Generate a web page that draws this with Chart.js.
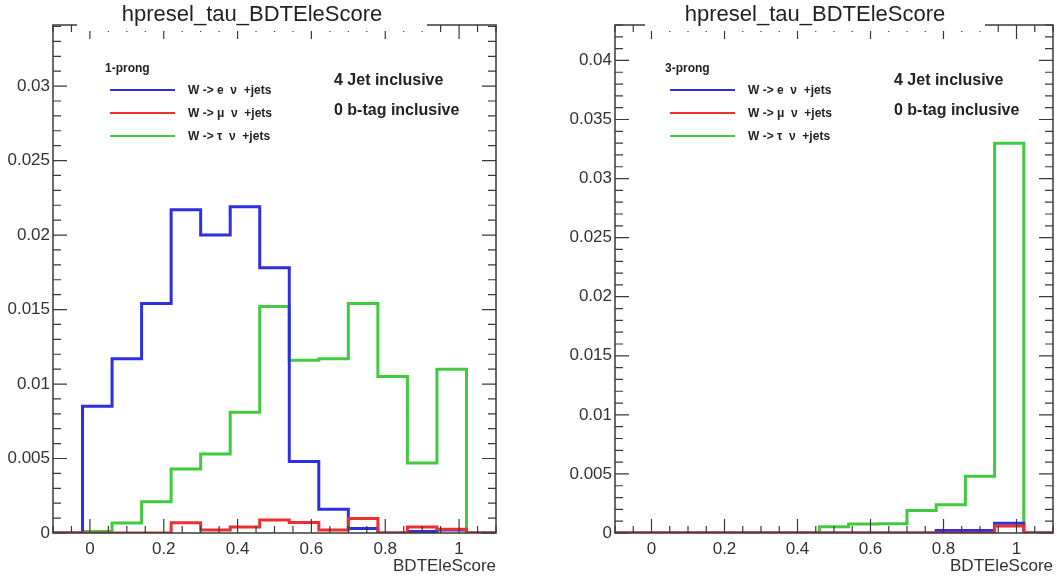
<!DOCTYPE html>
<html>
<head>
<meta charset="utf-8">
<title>hpresel_tau_BDTEleScore</title>
<script src="https://cdn.jsdelivr.net/npm/chart.js@4.4.1/dist/chart.umd.min.js"></script>
<style>
  body { margin: 0; background: #fff; }
  #pad1 { position: absolute; left: 0; top: 0; width: 500px; height: 581px; }
  #pad3 { position: absolute; left: 560px; top: 0; width: 497px; height: 581px; }
</style>
</head>
<body>
<div id="pad1"><canvas id="chart1"></canvas></div>
<div id="pad3"><canvas id="chart3"></canvas></div>
<script>
// histogram binning (15 bins, -0.1 .. 1.1)
const binEdges = [-0.1, -0.02, 0.06, 0.14, 0.22, 0.30, 0.38, 0.46, 0.54, 0.62, 0.70, 0.78, 0.86, 0.94, 1.02, 1.10];
const xTickValues = [0, 0.2, 0.4, 0.6, 0.8, 1];
const yTickValues1 = [0, 0.005, 0.01, 0.015, 0.02, 0.025, 0.03];
const yTickValues3 = [0, 0.005, 0.01, 0.015, 0.02, 0.025, 0.03, 0.035, 0.04];

const seriesLabels = ['W -> e  ν  +jets', 'W -> μ  ν  +jets', 'W -> τ  ν  +jets'];
const seriesColors = ['#2f2fe2', '#ec2f2f', '#3fca3f'];

// 1-prong
const enu1   = [0, 0.0085, 0.0117, 0.0154, 0.0217, 0.0200, 0.0219, 0.0178, 0.0048, 0.0016, 0.0003, 0, 0.0001, 0.0002, 0];
const munu1  = [0, 0, 0, 0, 0.00068, 0.0002, 0.0004, 0.00088, 0.0007, 0.0002, 0.00098, 0, 0.0004, 0.00025, 0];
const taunu1 = [0, 0.0001, 0.00067, 0.0021, 0.0043, 0.0053, 0.0081, 0.0152, 0.0116, 0.0117, 0.0154, 0.0105, 0.0047, 0.0110, 0];

// 3-prong
const enu3   = [0, 0, 0, 0, 0, 0, 0, 0, 0, 0, 0, 0.00022, 0.00022, 0.00082, 0];
const munu3  = [0, 0, 0, 0, 0, 0, 0, 0, 0, 0, 0, 0, 0, 0.0006, 0];
const taunu3 = [0, 0, 0, 0, 0, 0, 0, 0.00053, 0.00076, 0.00078, 0.0019, 0.0024, 0.0048, 0.0330, 0];

const FONT = "'Liberation Sans', Arial, Helvetica, sans-serif";

function histPoints(values) {
  const pts = values.map((v, i) => ({ x: binEdges[i], y: v }));
  pts.push({ x: binEdges[binEdges.length - 1], y: values[values.length - 1] });
  return pts;
}

function fmt(v) {
  return String(+Number(v).toFixed(4));
}

// ROOT-like frame, inward ticks, title box and legend
const rootStyle = {
  id: 'rootStyle',
  afterDraw(chart, args, opts) {
    const { ctx, chartArea: a, scales: { x, y } } = chart;
    ctx.save();

    // frame
    ctx.strokeStyle = '#3a3a3a';
    ctx.lineWidth = 1.5;
    ctx.strokeRect(a.left, a.top, a.right - a.left, a.bottom - a.top);

    // ticks
    ctx.lineWidth = 1.2;
    ctx.beginPath();
    for (let k = -2; k <= 22; k++) {
      const v = k * 0.05;
      if (v < x.min - 1e-9 || v > x.max + 1e-9) continue;
      const px = x.getPixelForValue(v);
      const len = k % 4 === 0 ? 14 : 7;
      ctx.moveTo(px, a.bottom); ctx.lineTo(px, a.bottom - len);
      ctx.moveTo(px, a.top); ctx.lineTo(px, a.top + len);
    }
    for (let k = 0; k * 0.001 <= y.max + 1e-9; k++) {
      const py = y.getPixelForValue(k * 0.001);
      const len = k % 5 === 0 ? 14 : 8;
      ctx.moveTo(a.left, py); ctx.lineTo(a.left + len, py);
      ctx.moveTo(a.right, py); ctx.lineTo(a.right - len, py);
    }
    ctx.stroke();

    // title pave (covers part of the top frame)
    ctx.fillStyle = '#fff';
    ctx.fillRect(opts.paveLeft, 0, opts.paveRight - opts.paveLeft, 31);
    ctx.fillStyle = '#222';
    ctx.font = '22px ' + FONT;
    ctx.textAlign = 'center';
    ctx.textBaseline = 'middle';
    ctx.fillText(opts.title, (opts.paveLeft + opts.paveRight) / 2, 15);

    // legend
    ctx.textAlign = 'left';
    ctx.fillStyle = '#222';
    ctx.font = 'bold 12px ' + FONT;
    ctx.fillText(opts.header, 105, 69);
    const rows = [90, 113, 136];
    chart.data.datasets.forEach((ds, i) => {
      ctx.strokeStyle = ds.borderColor;
      ctx.lineWidth = 2.2;
      ctx.beginPath();
      ctx.moveTo(110, rows[i]); ctx.lineTo(175, rows[i]);
      ctx.stroke();
      ctx.fillStyle = '#222';
      ctx.font = 'bold 12px ' + FONT;
      ctx.fillText(ds.label, 188, rows[i] + 1);
    });

    ctx.font = 'bold 16px ' + FONT;
    ctx.fillText('4 Jet inclusive', 334, 81);
    ctx.fillText('0 b-tag inclusive', 334, 111);
    ctx.restore();
  }
};

function makeChart(id, series, yMax, yTicks, yWidth, header, pave) {
  const order = [1, 0, 2];
  const ctx = document.getElementById(id).getContext('2d');
  return new Chart(ctx, {
    type: 'line',
    data: {
      datasets: series.map((vals, i) => ({
        label: seriesLabels[i],
        data: histPoints(vals),
        borderColor: seriesColors[i],
        borderWidth: 3,
        stepped: 'before',
        pointRadius: 0,
        fill: false,
        order: order[i]
      }))
    },
    options: {
      responsive: true,
      maintainAspectRatio: false,
      animation: false,
      layout: { padding: { top: 25, right: 4, left: 0, bottom: 0 } },
      plugins: {
        legend: { display: false },
        tooltip: { enabled: false },
        rootStyle: { title: 'hpresel_tau_BDTEleScore', header: header, paveLeft: pave[0], paveRight: pave[1] }
      },
      scales: {
        x: {
          type: 'linear',
          min: binEdges[0],
          max: binEdges[binEdges.length - 1],
          grid: { display: false, drawTicks: false },
          border: { display: false },
          afterBuildTicks: s => { s.ticks = xTickValues.map(v => ({ value: v })); },
          afterFit: s => { s.height = 48; },
          ticks: {
            color: '#333',
            font: { family: FONT, size: 17 },
            padding: 6,
            maxRotation: 0,
            callback: v => fmt(v)
          },
          title: {
            display: true,
            text: 'BDTEleScore',
            align: 'end',
            color: '#333',
            font: { family: FONT, size: 17 },
            padding: { top: 0, bottom: 4 }
          }
        },
        y: {
          min: 0,
          max: yMax,
          grid: { display: false, drawTicks: false },
          border: { display: false },
          afterBuildTicks: s => { s.ticks = yTicks.map(v => ({ value: v })); },
          afterFit: s => { s.width = yWidth; },
          ticks: {
            color: '#333',
            font: { family: FONT, size: 17 },
            padding: 3,
            callback: v => fmt(v)
          }
        }
      }
    },
    plugins: [rootStyle]
  });
}

makeChart('chart1', [enu1, munu1, taunu1], 0.0341, yTickValues1, 53, '1-prong', [77, 427]);
makeChart('chart3', [enu3, munu3, taunu3], 0.043, yTickValues3, 55, '3-prong', [85, 425]);
</script>
</body>
</html>
